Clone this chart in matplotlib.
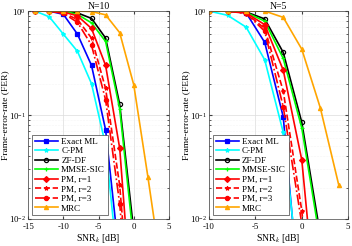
import matplotlib
matplotlib.use("Agg")
import matplotlib.pyplot as plt
import numpy as np

plt.rcParams['font.family'] = ['Liberation Serif', 'DejaVu Serif']
plt.rcParams['mathtext.fontset'] = 'stix'
plt.rcParams['font.size'] = 6.5

# ---- data: N=10 ----
snr10 = [-14, -12, -10, -8, -6, -4, -2, 0, 2, 4]
ml10 = [1.0, 1.0, 0.93, 0.60, 0.30, 0.072, 0.004]
cpm10 = [1.0, 0.88, 0.60, 0.41, 0.20, 0.051, 0.0024]
zf10 = [1.0, 1.0, 1.0, 0.96, 0.85, 0.55, 0.127, 0.0076]
mmse10 = [1.0, 1.0, 1.0, 0.93, 0.77, 0.51, 0.115, 0.006]
pm1_10 = [1.0, 1.0, 0.98, 0.90, 0.68, 0.30, 0.048, 0.0008]
pm2_10 = [1.0, 1.0, 0.96, 0.83, 0.55, 0.18, 0.021, 0.0005]
pm3_10 = [1.0, 1.0, 0.95, 0.78, 0.47, 0.14, 0.014, 0.0004]
mrc10 = [1.0, 1.0, 1.0, 1.0, 0.99, 0.92, 0.62, 0.195, 0.0256, 0.003]

# ---- data: N=5 ----
snr5 = [-10, -8, -6, -4, -2, 0, 2, 4]
ml5 = [1.0, 1.0, 0.96, 0.50, 0.096, 0.001]
cpm5 = [1.0, 0.91, 0.70, 0.34, 0.068, 0.0015]
zf5 = [1.0, 1.0, 0.98, 0.84, 0.40, 0.085, 0.007]
mmse5 = [1.0, 1.0, 0.97, 0.80, 0.35, 0.075, 0.006]
pm1_5 = [1.0, 1.0, 0.96, 0.74, 0.27, 0.037, 0.0005]
pm2_5 = [1.0, 1.0, 0.95, 0.68, 0.17, 0.012, 0.0002]
pm3_5 = [1.0, 1.0, 0.95, 0.64, 0.12, 0.009, 0.0002]
mrc5 = [1.0, 1.0, 1.0, 1.0, 0.87, 0.43, 0.117, 0.021]

labels = ['Exact ML', 'C-PM', 'ZF-DF', 'MMSE-SIC', 'PM, r=1', 'PM, r=2', 'PM, r=3', 'MRC']
colors = ['#0000ff', '#00ffff', '#000000', '#00ff00', '#ff0000', '#ff0000', '#ff0000', '#ffa500']
markers = ['s', '*', 'o', '+', 'D', '*', 'o', '^']
styles = ['-', '-', '-', '-', '-', '--', '-.', '-']
mfc = ['#0000ff', '#00ffff', 'none', '#00ff00', '#ff0000', '#ff0000', '#ff0000', '#ffa500']

fig = plt.figure(figsize=(3.52, 2.46), dpi=100)
ax1 = fig.add_axes([0.080, 0.110, 0.400, 0.845])
ax2 = fig.add_axes([0.594, 0.110, 0.395, 0.845])

def draw(ax, snr, series, title, xlim, xticks):
    for i, ys in enumerate(series):
        ax.semilogy(snr[:len(ys)], ys, linestyle=styles[i], color=colors[i],
                    marker=markers[i], markersize=3.0, markerfacecolor=mfc[i],
                    markeredgecolor=colors[i], markeredgewidth=0.9,
                    linewidth=1.2, label=labels[i])
    ax.set_xlim(xlim)
    ax.set_ylim(1e-2, 1)
    ax.set_xticks(xticks)
    ax.set_xticklabels([str(t) for t in xticks])
    ax.grid(True, which='major', color='#dcdcdc', linewidth=0.5)
    ax.grid(True, which='minor', color='#ececec', linewidth=0.4, linestyle=':')
    ax.tick_params(which='both', direction='in', top=True, right=True,
                   labelsize=6.3, color='#404040')
    ax.tick_params(axis='x', pad=3)
    ax.tick_params(axis='y', pad=1.5)
    ax.tick_params(which='major', length=2.5)
    ax.tick_params(which='minor', length=1.5)
    for s in ax.spines.values():
        s.set_color('#404040')
        s.set_linewidth(0.5)
    ax.set_title(title, fontsize=7, pad=1.5)
    ax.set_xlabel(r'SNR$_k$ [dB]', fontsize=7, labelpad=0.5)
    ax.set_ylabel('Frame-error-rate (FER)', fontsize=6.8, labelpad=0)
    leg = ax.legend(loc='lower left', fontsize=6.6, handlelength=2.6,
                    handletextpad=0.3, labelspacing=0.12, borderpad=0.3,
                    borderaxespad=0.4, fancybox=False, framealpha=1)
    leg.get_frame().set_edgecolor('#404040')
    leg.get_frame().set_linewidth(0.5)

draw(ax1, snr10, [ml10, cpm10, zf10, mmse10, pm1_10, pm2_10, pm3_10, mrc10],
     'N=10', (-15, 5), [-15, -10, -5, 0, 5])
draw(ax2, snr5, [ml5, cpm5, zf5, mmse5, pm1_5, pm2_5, pm3_5, mrc5],
     'N=5', (-10, 5), [-10, -5, 0, 5])

fig.savefig('out.png', dpi=100)
